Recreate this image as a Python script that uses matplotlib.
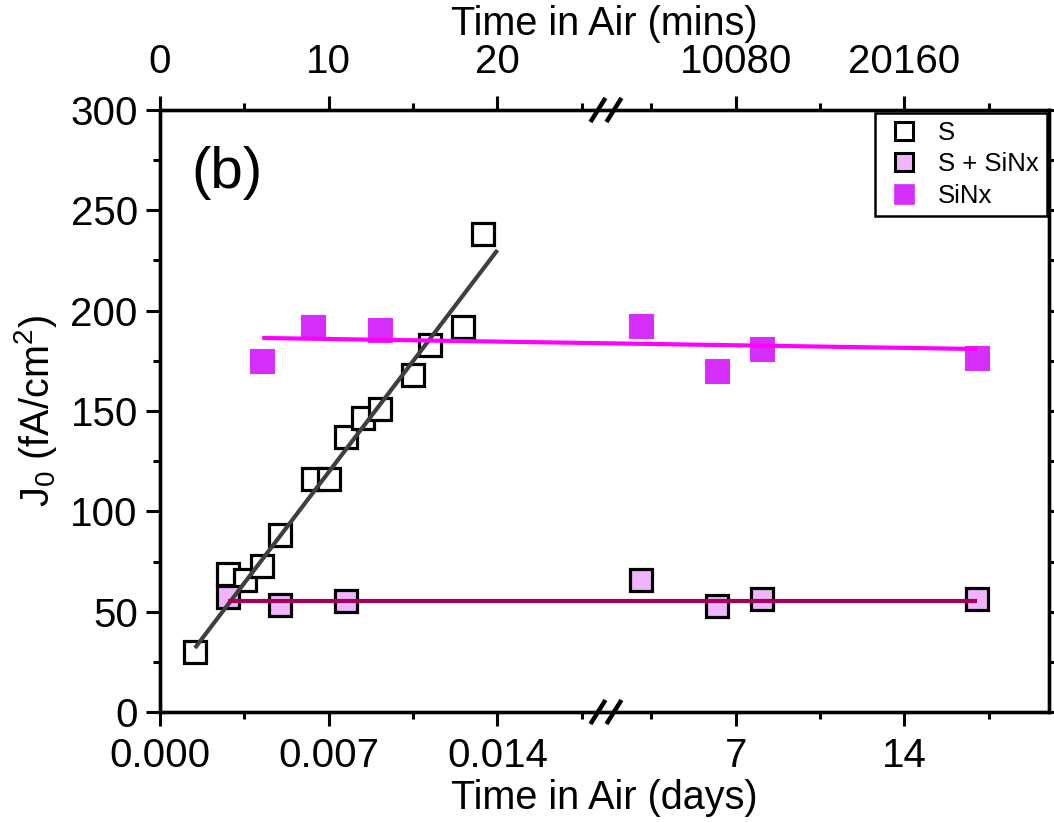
import numpy as np
import matplotlib
matplotlib.use('Agg')
import matplotlib.pyplot as plt
from matplotlib.lines import Line2D
from matplotlib.ticker import FixedLocator

plt.rcParams['font.family'] = ['Liberation Sans', 'DejaVu Sans']
plt.rcParams['mathtext.default'] = 'regular'

# ---------------- data ----------------
s_days = [0.00145, 0.00283, 0.00353, 0.00424, 0.00499, 0.00636, 0.00702,
          0.00773, 0.00843, 0.00914, 0.01051, 0.01122, 0.01259, 0.01338]
s_j0 = [30, 69, 66, 73, 88, 116, 116, 137, 146.5, 151, 168, 183, 192, 238]

ssinx_days = [0.00283, 0.00499, 0.00773, 3.07, 6.21, 8.08, 17.02]
ssinx_j0 = [57.3, 53.3, 55.3, 65.8, 52.8, 56.3, 56.3]

sinx_days = [0.00424, 0.00636, 0.00914, 3.07, 6.21, 8.08, 17.02]
sinx_j0 = [174.9, 191.8, 190.3, 192.3, 169.9, 180.9, 176.4]

# fitted lines: values at first / last point
s_fit_days = [0.00145, 0.0140]
s_fit_j0 = [31.9, 230.2]
ssinx_fit_j0 = [55.4, 55.4]
sinx_fit_j0 = [186.4, 180.9]

bottom_ticks = [0, 0.007, 0.014, 7, 14]
bottom_labels = ['0.000', '0.007', '0.014', '7', '14']
top_labels = ['0', '10', '20', '10080', '20160']
minor_ticks = [0.0035, 0.0105, 0.0175, 3.5, 10.5, 17.5]
y_ticks = [0, 50, 100, 150, 200, 250, 300]
y_minor = [25, 75, 125, 175, 225, 275]

# ---------------- broken-axis scale ----------------
B1, B2 = 0.0185, 1.62
K = 1000.0
EPS = 1e-6
U1 = B1 * K
U2 = U1 + (B2 - B1) * EPS


def fwd(d):
    d = np.asarray(d, dtype=float)
    return np.where(d <= B1, d * K,
                    np.where(d >= B2, U2 + (d - B2), U1 + (d - B1) * EPS))


def inv(u):
    u = np.asarray(u, dtype=float)
    return np.where(u <= U1, u / K,
                    np.where(u >= U2, B2 + (u - U2), B1 + (u - U1) / EPS))


fig = plt.figure(figsize=(10.54, 8.22), dpi=100)
ax = fig.add_axes([160 / 1054, 1 - 712 / 822, 889 / 1054, 602 / 822])
ax.set_xscale('function', functions=(fwd, inv))
ax.set_xlim(0, 20)
ax.set_ylim(0, 300)

S_COL_LINE = '#3f3f3f'
SS_FACE = '#efb4fb'
SS_LINE = '#a3005c'
SI_FACE = '#d72ffb'
SI_LINE = '#ff00ff'

ms = 15.8
mew = 2.3
ax.plot(s_days, s_j0, ls='none', marker='s', ms=ms, mfc='white', mec='black',
        mew=mew, zorder=3)
ax.plot(ssinx_days, ssinx_j0, ls='none', marker='s', ms=ms, mfc=SS_FACE,
        mec='black', mew=mew, zorder=3)
ax.plot(sinx_days, sinx_j0, ls='none', marker='s', ms=17.5, mfc=SI_FACE,
        mec=SI_FACE, mew=0.8, zorder=3)

ax.plot(s_fit_days, s_fit_j0, color=S_COL_LINE, lw=3, zorder=4,
        solid_capstyle='butt')
ax.plot([ssinx_days[0], ssinx_days[-1]], ssinx_fit_j0, color=SS_LINE, lw=3,
        zorder=4, solid_capstyle='butt')
ax.plot([sinx_days[0], sinx_days[-1]], sinx_fit_j0, color=SI_LINE, lw=3,
        zorder=4, solid_capstyle='butt')

# ticks
ax.xaxis.set_major_locator(FixedLocator(bottom_ticks))
ax.xaxis.set_minor_locator(FixedLocator(minor_ticks))
ax.set_xticklabels(bottom_labels)
ax.yaxis.set_major_locator(FixedLocator(y_ticks))
ax.yaxis.set_minor_locator(FixedLocator(y_minor))
ax.tick_params(axis='both', which='major', direction='out', length=10,
               width=2.2, labelsize=29, pad=6)
ax.tick_params(axis='x', which='major', pad=8)
ax.tick_params(axis='both', which='minor', direction='out', length=5,
               width=2.2)
ax.tick_params(axis='y', which='both', right=True, left=True)
ax.tick_params(axis='x', which='both', top=False)
for sp in ax.spines.values():
    sp.set_linewidth(2.4)

ax.set_xlabel('Time in Air (days)', fontsize=28.5, labelpad=3)
ax.set_ylabel('J$_0$ (fA/cm$^2$)', fontsize=28.5, labelpad=8)

ax2 = ax.twiny()
ax2.set_xscale('function', functions=(fwd, inv))
ax2.set_xlim(0, 20)
ax2.xaxis.set_major_locator(FixedLocator(bottom_ticks))
ax2.xaxis.set_minor_locator(FixedLocator(minor_ticks))
ax2.set_xticklabels(top_labels)
ax2.tick_params(axis='x', which='major', direction='out', length=10,
                width=2.2, labelsize=29, pad=11)
ax2.tick_params(axis='x', which='minor', direction='out', length=5, width=2.2)
for sp in ax2.spines.values():
    sp.set_linewidth(2.4)
ax2.set_xlabel('Time in Air (mins)', fontsize=28.5, labelpad=6)

ax.text(0.075, 0.895, '(b)', transform=ax.transAxes, fontsize=42,
        ha='center', va='center')

# break marks
xb = float(fwd(B1) + fwd(B2)) / 2 / float(fwd(20))
dxp = 8 / 889
sw = 7.5 / 889
sh = 12 / 602
for yb in (0, 1):
    for c in (xb - dxp, xb + dxp):
        ax2.plot([c - sw, c + sw], [yb - sh, yb + sh], color='black', lw=3.2,
                 transform=ax2.transAxes, clip_on=False, zorder=10,
                 solid_capstyle='butt')

# legend
handles = [
    Line2D([], [], ls='none', marker='s', ms=13, mfc='white', mec='black', mew=2.2),
    Line2D([], [], ls='none', marker='s', ms=13, mfc=SS_FACE, mec='black', mew=2.2),
    Line2D([], [], ls='none', marker='s', ms=14.5, mfc=SI_FACE, mec=SI_FACE, mew=0.5),
]
leg = ax2.legend(handles, ['S', 'S + SiNx', 'SiNx'], loc='upper right',
                 bbox_to_anchor=(0.9975, 0.995), fontsize=18.5, frameon=True,
                 fancybox=False, framealpha=1, edgecolor='black',
                 borderpad=0.3, handletextpad=0.55, handlelength=1.6,
                 labelspacing=0.3, borderaxespad=0)
leg.get_frame().set_linewidth(1.8)

fig.savefig('out.png', dpi=100)
